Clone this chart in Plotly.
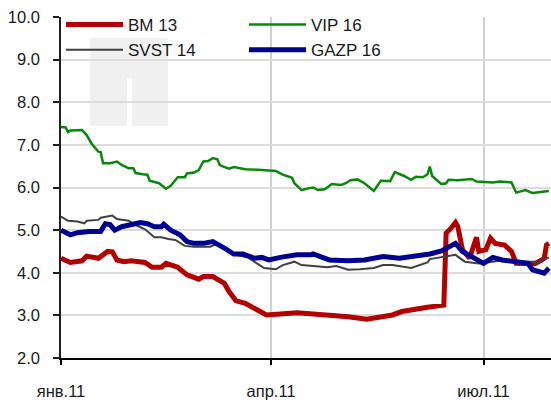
import plotly.graph_objects as go

# ---- data ----
bm13_dates = ["2011-01-01","2011-01-05","2011-01-10","2011-01-12","2011-01-17","2011-01-21","2011-01-23","2011-01-25",
              "2011-01-28","2011-01-31","2011-02-06","2011-02-09","2011-02-13","2011-02-15","2011-02-20","2011-02-24",
              "2011-03-01","2011-03-03","2011-03-07","2011-03-12","2011-03-14","2011-03-17","2011-03-21","2011-03-25",
              "2011-03-30","2011-04-05","2011-04-12","2011-04-19","2011-04-26","2011-05-04","2011-05-12","2011-05-19",
              "2011-05-23","2011-05-27","2011-05-31","2011-06-07","2011-06-14","2011-06-15","2011-06-17","2011-06-19",
              "2011-06-20","2011-06-22","2011-06-25","2011-06-26","2011-06-28","2011-06-29","2011-07-02","2011-07-04",
              "2011-07-06","2011-07-10","2011-07-13","2011-07-15","2011-07-19","2011-07-23","2011-07-26","2011-07-27",
              "2011-07-28","2011-07-29"]
bm13_vals = [4.34,4.24,4.28,4.39,4.34,4.50,4.49,4.30,
             4.26,4.28,4.24,4.13,4.13,4.22,4.13,3.95,
             3.85,3.91,3.91,3.75,3.56,3.34,3.28,3.17,
             3.01,3.03,3.06,3.03,3.01,2.97,2.91,2.97,
             3.01,3.09,3.13,3.19,3.24,4.93,5.04,5.18,
             5.08,4.54,4.34,4.50,4.83,4.50,4.54,4.81,
             4.69,4.65,4.50,4.22,4.22,4.21,4.30,4.34,
             4.65,4.69]

vip16_dates = ["2011-01-01","2011-01-03","2011-01-04","2011-01-05","2011-01-10","2011-01-12","2011-01-14","2011-01-17",
               "2011-01-18","2011-01-19","2011-01-22","2011-01-25","2011-01-27","2011-01-30","2011-02-01","2011-02-02",
               "2011-02-05","2011-02-07","2011-02-08","2011-02-12","2011-02-15","2011-02-17","2011-02-20","2011-02-23",
               "2011-02-24","2011-02-27","2011-03-01","2011-03-03","2011-03-05","2011-03-07","2011-03-09","2011-03-10",
               "2011-03-11","2011-03-14","2011-03-16","2011-03-21","2011-03-28","2011-04-03","2011-04-06","2011-04-10",
               "2011-04-11","2011-04-14","2011-04-17","2011-04-19","2011-04-21","2011-04-24","2011-04-27","2011-05-01",
               "2011-05-03","2011-05-05","2011-05-08","2011-05-11","2011-05-15","2011-05-18","2011-05-22","2011-05-24",
               "2011-05-28","2011-05-31","2011-06-02","2011-06-05","2011-06-07","2011-06-08","2011-06-09","2011-06-13",
               "2011-06-15","2011-06-16","2011-06-20","2011-06-26","2011-06-28","2011-07-05","2011-07-08","2011-07-13",
               "2011-07-15","2011-07-19","2011-07-22","2011-07-26","2011-07-29"]
vip16_vals = [7.42,7.41,7.30,7.34,7.35,7.23,7.04,6.84,
              6.83,6.57,6.57,6.61,6.53,6.45,6.45,6.34,
              6.31,6.30,6.16,6.10,5.97,6.04,6.24,6.24,
              6.33,6.35,6.41,6.61,6.62,6.69,6.66,6.53,
              6.50,6.44,6.48,6.43,6.41,6.39,6.30,6.23,
              6.10,5.94,5.98,6.00,5.94,5.96,6.08,6.06,
              6.10,6.17,6.19,6.10,5.92,6.16,6.15,6.36,
              6.27,6.18,6.25,6.24,6.31,6.49,6.27,6.08,
              6.10,6.18,6.17,6.20,6.14,6.12,6.14,6.12,
              5.88,5.94,5.87,5.89,5.92]

svst14_dates = ["2011-01-01","2011-01-04","2011-01-08","2011-01-11","2011-01-12","2011-01-17","2011-01-18","2011-01-23",
                "2011-01-25","2011-01-30","2011-02-02","2011-02-06","2011-02-10","2011-02-13","2011-02-16","2011-02-19",
                "2011-02-23","2011-02-27","2011-03-06","2011-03-09","2011-03-12","2011-03-16","2011-03-22","2011-03-26",
                "2011-03-29","2011-04-03","2011-04-06","2011-04-11","2011-04-14","2011-04-19","2011-04-25","2011-04-29",
                "2011-05-04","2011-05-09","2011-05-15","2011-05-19","2011-05-23","2011-05-31","2011-06-07","2011-06-08",
                "2011-06-12","2011-06-19","2011-06-23","2011-06-29","2011-07-08","2011-07-16","2011-07-25","2011-07-29"]
svst14_vals = [5.32,5.22,5.20,5.16,5.22,5.24,5.29,5.34,
               5.26,5.22,5.12,5.02,4.83,4.83,4.79,4.77,
               4.63,4.61,4.61,4.69,4.57,4.43,4.36,4.21,
               4.11,4.08,4.18,4.26,4.18,4.16,4.13,4.16,
               4.07,4.08,4.11,4.18,4.18,4.11,4.24,4.32,
               4.36,4.42,4.26,4.22,4.28,4.26,4.26,4.36]

gazp16_dates = ["2011-01-01","2011-01-05","2011-01-08","2011-01-13","2011-01-18","2011-01-20","2011-01-22","2011-01-24",
                "2011-01-27","2011-01-31","2011-02-04","2011-02-07","2011-02-10","2011-02-13","2011-02-14","2011-02-17",
                "2011-02-21","2011-02-24","2011-02-27","2011-03-03","2011-03-07","2011-03-12","2011-03-16","2011-03-20",
                "2011-03-25","2011-03-28","2011-03-31","2011-04-05","2011-04-12","2011-04-18","2011-04-19","2011-04-26",
                "2011-05-04","2011-05-11","2011-05-19","2011-05-26","2011-06-02","2011-06-08","2011-06-13","2011-06-16",
                "2011-06-19","2011-06-22","2011-06-26","2011-07-01","2011-07-05","2011-07-09","2011-07-15","2011-07-20",
                "2011-07-22","2011-07-27","2011-07-29"]
gazp16_vals = [5.00,4.89,4.94,4.97,4.97,5.15,5.13,5.00,
               5.08,5.12,5.18,5.15,5.08,5.08,5.14,5.00,
               4.89,4.73,4.69,4.69,4.73,4.58,4.44,4.44,
               4.34,4.36,4.30,4.36,4.42,4.42,4.44,4.30,
               4.28,4.30,4.38,4.34,4.39,4.44,4.51,4.61,
               4.69,4.50,4.38,4.22,4.36,4.30,4.26,4.22,
               4.07,3.99,4.11]

tick_dates = ["2011-01-01", "2011-04-01", "2011-07-01"]
tick_labels = ["янв.11", "апр.11", "июл.11"]

FONT = "Liberation Sans, Arial, sans-serif"

fig = go.Figure()
fig.add_trace(go.Scatter(x=bm13_dates, y=bm13_vals, name="BM 13", mode="lines",
                         line=dict(color="#B00000", width=5)))
fig.add_trace(go.Scatter(x=vip16_dates, y=vip16_vals, name="VIP 16", mode="lines",
                         line=dict(color="#0A870A", width=2.5)))
fig.add_trace(go.Scatter(x=svst14_dates, y=svst14_vals, name="SVST 14", mode="lines",
                         line=dict(color="#404040", width=2)))
fig.add_trace(go.Scatter(x=gazp16_dates, y=gazp16_vals, name="GAZP 16", mode="lines",
                         line=dict(color="#000090", width=5)))

W, H = 551, 403
L, R, T, B = 61, 0, 17, 45
pw, ph = W - L - R, H - T - B
def px(x):
    return (x - L) / pw
def py(y):
    return (H - B - y) / ph

# white legend panel hiding the gridlines (drawn first), then faint watermark logo
fig.add_shape(type="rect", xref="paper", yref="paper",
              x0=px(L + 1), x1=px(403), y0=py(62), y1=py(T - 1),
              fillcolor="white", line=dict(width=0), layer="between")
wm = "#F0F0F0"
for (x0, y0, x1, y1) in [(90, 38, 168, 78), (90, 78, 127, 126), (132, 78, 168, 126)]:
    fig.add_shape(type="rect", xref="paper", yref="paper",
                  x0=px(x0), x1=px(x1), y0=py(y1), y1=py(y0),
                  fillcolor=wm, line=dict(width=0), layer="between")

fig.update_layout(
    width=W, height=H, autosize=False,
    margin=dict(l=L, r=R, t=T, b=B, pad=0),
    paper_bgcolor="white", plot_bgcolor="white",
    font=dict(family=FONT, size=17, color="#1A1A1A"),
    showlegend=True,
    legend=dict(orientation="h", x=0.0, y=1.0 + 10 / ph, xanchor="left", yanchor="top",
                bgcolor="rgba(0,0,0,0)", borderwidth=0, itemwidth=57,
                entrywidth=111, entrywidthmode="pixels",
                font=dict(family=FONT, size=17, color="#1A1A1A")),
    xaxis=dict(type="date", range=["2011-01-01", "2011-07-29 22:00"],
               tickmode="array", tickvals=tick_dates, ticktext=tick_labels,
               tickfont=dict(size=16.5),
               showgrid=True, gridcolor="#D0D0D0", gridwidth=1.5,
               showline=True, linecolor="#000000", linewidth=1.5,
               ticks="outside", ticklen=5, tickcolor="#000000", tickwidth=1.5,
               ticklabelstandoff=12, zeroline=False),
    yaxis=dict(range=[2, 10], dtick=1, tick0=2, tickformat=".1f",
               tickfont=dict(size=16.5),
               showgrid=True, gridcolor="#DCDCDC", gridwidth=1.5,
               showline=True, linecolor="#202020", linewidth=1.5,
               ticks="outside", ticklen=6, tickcolor="#202020", tickwidth=1.5,
               ticklabelstandoff=10, zeroline=False),
)

fig.write_html("out.html", config={"displayModeBar": False},
               post_script="document.body.style.margin='0';")
